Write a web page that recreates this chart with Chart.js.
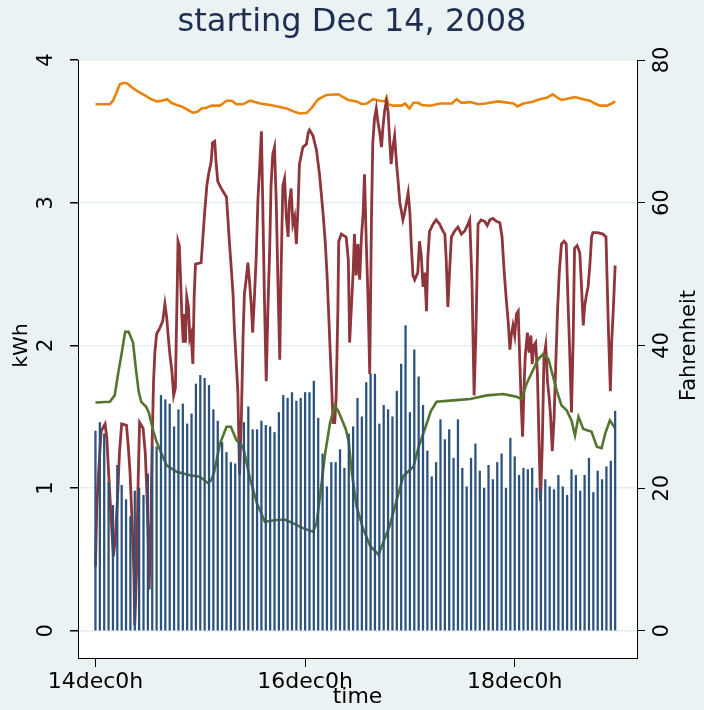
<!DOCTYPE html>
<html>
<head>
<meta charset="utf-8">
<title>starting Dec 14, 2008</title>
<script src="https://cdn.jsdelivr.net/npm/chart.js@4.4.1/dist/chart.umd.min.js"></script>
<style>
    html, body { margin: 0; padding: 0; background: #eaf2f3; }
    #wrap { width: 704px; height: 710px; position: relative; }
</style>
</head>
<body>
<div id="wrap"><canvas id="usage"></canvas></div>
<script>
// Hourly electricity use (kWh), one value per hour from 14dec 0h
const kwhHourly = [
    1.40, 1.46, 1.38, 1.04, 0.88, 1.16, 1.02, 0.92, 0.80, 0.98, 1.00, 0.95,
    1.10, 1.29, 1.29, 1.65, 1.62, 1.59, 1.43, 1.55, 1.59, 1.45, 1.52, 1.73,
    1.79, 1.77, 1.72, 1.55, 1.47, 1.32, 1.25, 1.18, 1.17, 1.33, 1.46, 1.57,
    1.41, 1.41, 1.47, 1.44, 1.43, 1.39, 1.53, 1.65, 1.63, 1.67, 1.61, 1.63,
    1.67, 1.67, 1.75, 1.49, 1.24, 1.01, 1.18, 1.18, 1.27, 1.14, 1.38, 1.43,
    1.63, 1.50, 1.74, 1.80, 1.80, 1.45, 1.58, 1.55, 1.50, 1.68, 1.87, 2.14,
    1.53, 1.97, 1.78, 1.58, 1.26, 1.08, 1.18, 1.48, 1.34, 1.41, 1.21, 1.48,
    1.14, 1.01, 1.21, 1.31, 1.12, 1.00, 1.16, 1.06, 1.18, 1.24, 1.00, 1.35,
    1.22, 1.09, 1.14, 1.13, 1.14, 1.00, 0.99, 1.06, 1.01, 0.99, 1.09, 1.01,
    0.95, 1.13, 1.09, 0.98, 1.09, 1.21, 0.97, 1.12, 1.06, 1.15, 1.19, 1.54
];

// Red trace (kWh axis), sampled finer than hourly
const redHours = [
    0, 0.3, 0.8, 1.3, 2.2, 2.6, 3.1, 3.6, 4.1, 4.5, 5.0, 5.5, 6.0, 7.1, 7.5, 7.9,
    8.4, 8.8, 9.0, 9.4, 9.7, 10.1, 10.9, 11.4, 11.8, 12.1, 12.3, 12.7, 13.0, 13.3,
    13.6, 14.0, 14.7, 15.4, 15.9, 16.3, 16.7, 17.1, 17.5, 17.9, 18.3, 18.5, 18.7,
    18.9, 19.2, 19.5, 19.8, 20.1, 20.4, 20.6, 20.9, 21.3, 21.6, 21.9, 22.3, 22.6,
    22.9, 24.2, 24.6, 25.0, 25.5, 25.9, 26.5, 26.8, 27.3, 27.6, 28.0, 28.8, 30.0,
    30.3, 30.7, 31.1, 31.5, 31.8, 32.2, 32.6, 33.0, 33.4, 33.8, 34.1, 34.5, 34.9,
    35.3, 35.7, 36.0, 36.4, 36.8, 37.2, 37.6, 38.0, 38.3, 38.7, 39.1, 39.5, 39.9,
    40.2, 40.6, 41.0, 41.4, 41.8, 42.2, 42.5, 42.9, 43.3, 43.7, 44.1, 44.4, 44.8,
    45.2, 45.6, 46.0, 46.4, 46.7, 47.5, 48.3, 48.7, 49.0, 49.8, 50.6, 51.3, 52.1,
    52.6, 53.0, 53.4, 53.8, 54.1, 54.4, 54.8, 55.1, 55.5, 55.7, 56.3, 57.4, 57.9,
    58.2, 58.6, 59.0, 59.3, 59.7, 60.1, 60.5, 60.9, 61.3, 61.6, 62.0, 62.4, 62.8,
    63.2, 63.5, 63.9, 64.3, 64.7, 65.1, 65.5, 65.8, 66.2, 66.6, 67.0, 67.4, 67.7,
    68.1, 68.5, 68.9, 69.3, 69.7, 70.0, 70.4, 70.8, 71.2, 71.6, 72.0, 72.3, 72.7,
    73.1, 73.8, 74.2, 74.6, 75.0, 75.4, 75.8, 76.1, 76.5, 77.3, 78.0, 78.8, 79.6,
    80.0, 80.3, 80.7, 81.1, 81.5, 82.2, 83.0, 83.8, 84.5, 85.3, 85.7, 86.2, 86.7,
    87.1, 87.6, 88.3, 89.1, 89.7, 90.3, 91.0, 91.8, 92.6, 93.1, 93.6, 94.1, 94.5,
    94.9, 95.2, 95.6, 96.0, 96.4, 96.8, 97.1, 97.5, 97.8, 98.1, 98.4, 98.9, 99.3,
    99.7, 100.0, 100.4, 100.8, 101.2, 101.6, 101.9, 102.3, 102.7, 103.1, 103.5,
    103.9, 104.2, 104.6, 105.0, 105.4, 105.8, 106.2, 106.7, 107.3, 107.8, 108.2,
    108.6, 109.0, 109.4, 109.7, 110.3, 110.9, 111.3, 111.7, 112.0, 112.4, 112.8,
    113.2, 113.6, 113.9, 115.0, 116.2, 116.9, 117.2, 117.5, 117.9, 118.2, 118.6, 119.0
];
const redKwh = [
    0.45, 0.87, 1.15, 1.40, 1.45, 1.35, 1.06, 0.78, 0.52, 0.63, 0.90, 1.25, 1.45, 1.44, 1.30, 1.12,
    0.75, 0.40, 0.04, 0.40, 0.95, 1.46, 1.42, 1.25, 0.95, 0.60, 0.29, 0.80, 1.35, 1.75,
    1.95, 2.08, 2.12, 2.17, 2.29, 2.20, 2.05, 1.92, 1.82, 1.65, 1.70, 2.05, 2.36,
    2.73, 2.70, 2.46, 2.19, 2.02, 2.22, 2.02, 2.34, 2.27, 2.05, 2.08, 1.87, 2.34,
    2.57, 2.58, 2.76, 2.93, 3.12, 3.20, 3.29, 3.42, 3.43, 3.29, 3.15, 3.10, 3.04,
    2.90, 2.71, 2.54, 2.36, 2.12, 1.90, 1.68, 1.09, 1.48, 2.07, 2.36, 2.46, 2.58,
    2.44, 2.27, 2.09, 2.34, 2.61, 3.02, 3.25, 3.50, 3.00, 2.31, 1.75, 2.27, 2.68,
    3.12, 3.34, 3.39, 3.00, 2.41, 1.90, 2.51, 3.12, 3.17, 2.90, 2.76, 3.00, 3.10,
    2.85, 2.90, 2.71, 2.98, 3.27, 3.39, 3.41, 3.49, 3.51, 3.47, 3.37, 3.20, 2.93,
    2.73, 2.51, 2.22, 1.92, 1.70, 1.46, 1.46, 1.63, 2.24, 2.73, 2.78, 2.76, 2.60,
    2.02, 2.27, 2.51, 2.78, 2.49, 2.71, 2.46, 2.76, 2.93, 3.20, 2.73, 2.34, 1.80,
    2.90, 3.42, 3.59, 3.66, 3.56, 3.49, 3.39, 3.52, 3.64, 3.71, 3.64, 3.42, 3.27,
    3.39, 3.47, 3.29, 3.15, 3.00, 2.95, 2.88, 2.93, 3.00, 3.07, 2.93, 2.71, 2.49,
    2.46, 2.51, 2.73, 2.63, 2.41, 2.51, 2.24, 2.61, 2.80, 2.85, 2.88, 2.85, 2.80,
    2.78, 2.61, 2.27, 2.53, 2.76, 2.80, 2.83, 2.78, 2.80, 2.85, 2.88, 2.46, 1.65,
    2.07, 2.85, 2.88, 2.87, 2.84, 2.88, 2.89, 2.87, 2.86, 2.76, 2.51, 2.31, 2.17,
    1.97, 2.07, 2.14, 2.07, 2.22, 2.24, 1.95, 1.58, 1.36, 1.68, 1.92, 2.09, 1.95,
    2.07, 1.87, 2.00, 2.02, 1.80, 1.29, 0.91, 1.29, 1.92, 2.00, 1.75,
    1.63, 1.51, 1.26, 1.48, 1.87, 2.24, 2.51, 2.71, 2.73, 2.71, 2.31,
    1.95, 1.53, 2.07, 2.68, 2.70, 2.65, 2.41, 2.14, 2.27, 2.35, 2.41,
    2.56, 2.76, 2.79, 2.79, 2.78, 2.76, 2.41, 2.07, 1.68, 2.02, 2.27, 2.56
];

// Green trace (Fahrenheit axis)
const greenHours = [
    0, 3.3, 4.4, 5.2, 6.0, 6.8, 7.6, 8.6, 9.3, 9.9, 10.5, 11.6, 12.2, 13.2, 14.0,
    14.8, 16.3, 18.6, 21.6, 23.9, 25.8, 26.5, 27.2, 28.5, 30.0, 31.0, 32.3, 33.8,
    35.4, 36.9, 38.8, 41.0, 43.3, 45.2, 47.5, 49.8, 50.6, 51.4, 52.6, 53.7, 54.8,
    55.6, 57.3, 58.0, 58.7, 59.8, 61.3, 62.9, 64.8, 65.9, 67.4, 69.0, 70.5, 72.8,
    74.0, 75.6, 76.8, 78.1, 81.9, 85.8, 89.6, 93.4, 94.9, 96.4, 97.6, 98.7, 100.3,
    101.4, 102.5, 103.7, 104.5, 105.6, 106.7, 107.9, 109.0, 109.8, 110.6, 111.7,
    113.6, 114.8, 115.9, 116.7, 117.8, 119.0
];
const greenTemp = [
    32.0, 32.1, 33.0, 36.1, 38.9, 41.9, 41.9, 40.4, 36.5, 33.5, 32.1, 31.4, 30.6, 28.1, 26.5,
    25.3, 23.2, 22.3, 21.8, 21.6, 20.7, 21.1, 22.3, 26.2, 28.6, 28.6, 26.7, 25.8,
    21.3, 18.0, 15.3, 15.5, 15.6, 15.1, 14.4, 13.9, 15.0, 18.8, 24.9, 29.1, 31.6,
    30.8, 28.3, 26.5, 22.1, 17.4, 14.3, 11.9, 10.7, 12.4, 14.8, 18.4, 21.7, 23.0,
    25.8, 28.6, 30.8, 32.1, 32.3, 32.5, 33.0, 33.2, 33.0, 32.8, 32.5, 34.6, 36.7,
    38.1, 38.8, 38.1, 36.3, 33.7, 31.6, 30.9, 29.5, 27.4, 30.0, 28.3,
    27.9, 25.8, 25.6, 27.6, 29.5, 28.4
];

// Orange trace (Fahrenheit axis)
const orangeHours = [
    0, 3.3, 4.0, 4.8, 5.6, 6.5, 7.3, 8.3, 9.4, 10.6, 11.7, 12.8, 14.0, 15.2, 16.4,
    17.4, 18.6, 19.7, 20.9, 22.4, 23.5, 24.3, 25.4, 26.6, 28.5, 30.0, 31.2, 32.3,
    33.8, 35.4, 37.7, 40.0, 42.2, 43.8, 45.3, 46.8, 48.4, 49.5, 51.0, 52.9, 55.6,
    56.7, 57.9, 59.8, 61.0, 62.1, 63.6, 65.1, 66.3, 66.7, 67.0, 68.2, 70.1, 70.9,
    71.9, 72.8, 73.9, 74.7, 76.6, 78.9, 81.6, 82.7, 83.8, 85.8, 87.7, 89.2, 92.2,
    95.7, 96.6, 98.0, 99.9, 101.8, 103.3, 104.7, 105.6, 106.7, 108.3, 109.8,
    111.7, 113.2, 114.4, 115.5, 117.1, 118.2, 119.0
];
const orangeTemp = [
    73.8, 73.8, 74.3, 75.4, 76.6, 76.8, 76.7, 76.2, 75.7, 75.3, 74.9, 74.5, 74.2, 74.3, 74.5,
    74.0, 73.7, 73.5, 73.1, 72.6, 72.8, 73.2, 73.3, 73.6, 73.6, 74.3, 74.3, 73.8,
    73.8, 74.3, 73.9, 73.7, 73.4, 73.2, 72.8, 72.5, 72.6, 73.3, 74.5, 75.1, 75.2,
    74.8, 74.4, 74.2, 73.8, 73.9, 74.5, 74.3, 74.2, 74.7, 73.8, 73.6, 73.6, 73.9,
    73.2, 74.0, 74.0, 73.7, 73.6, 73.9, 73.9, 74.5, 74.0, 74.1, 73.8, 73.9, 74.2,
    73.9, 73.5, 73.9, 74.1, 74.5, 74.7, 75.2, 74.8, 74.4, 74.6, 74.8,
    74.5, 74.3, 73.9, 73.6, 73.6, 73.9, 74.2
];

// Axis ticks and labels
const xTickValues = [0, 48, 96];
const xTickLabels = ['14dec0h', '16dec0h', '18dec0h'];
const kwhTicks = [0, 1, 2, 3, 4];
const tempTicks = [0, 20, 40, 60, 80];

const chartTitle = 'starting Dec 14, 2008';
const xTitle = 'time';
const leftTitle = 'kWh';
const rightTitle = 'Fahrenheit';

const FONT = '"DejaVu Sans", sans-serif';
const toPoints = (xs, ys) => xs.map((x, i) => ({ x: x, y: ys[i] }));

// White plot region over the bluish graph region
const plotBackground = {
    id: 'plotBackground',
    beforeDraw(chart) {
        const { ctx, chartArea, width, height } = chart;
        ctx.save();
        ctx.fillStyle = '#eaf2f3';
        ctx.fillRect(0, 0, width, height);
        ctx.fillStyle = '#ffffff';
        ctx.fillRect(chartArea.left, chartArea.top,
            chartArea.right - chartArea.left, chartArea.bottom - chartArea.top);
        ctx.restore();
    }
};

// Vertical axis titles, both reading bottom to top
const sideTitles = {
    id: 'sideTitles',
    afterDraw(chart) {
        const ctx = chart.ctx;
        const mid = chart.scales.y.getPixelForValue(2);
        ctx.save();
        ctx.fillStyle = '#000000';
        ctx.textAlign = 'center';
        ctx.textBaseline = 'middle';
        [[22, leftTitle, 20], [690, rightTitle, 21]].forEach(([x, text, size]) => {
            ctx.save();
            ctx.font = size + 'px ' + FONT;
            ctx.translate(x, mid);
            ctx.rotate(-Math.PI / 2);
            ctx.fillText(text, 0, 0);
            ctx.restore();
        });
        ctx.restore();
    }
};

const verticalTicks = (padding) => ({
    minRotation: 90,
    maxRotation: 90,
    crossAlign: 'center',
    padding: padding,
    color: '#000000',
    font: { family: FONT, size: 21 }
});

new Chart(document.getElementById('usage'), {
    data: {
        datasets: [
            {
                type: 'bar',
                data: toPoints(kwhHourly.map((v, i) => i), kwhHourly),
                backgroundColor: '#2b527c',
                barThickness: 1.6,
                yAxisID: 'y',
                order: 0
            },
            {
                type: 'line',
                data: toPoints(greenHours, greenTemp),
                borderColor: '#55752f',
                borderWidth: 2.6,
                pointRadius: 0,
                yAxisID: 'y1',
                order: 1
            },
            {
                type: 'line',
                data: toPoints(redHours, redKwh),
                borderColor: '#8f353c',
                borderWidth: 2.8,
                pointRadius: 0,
                yAxisID: 'y',
                order: 2
            },
            {
                type: 'line',
                data: toPoints(orangeHours, orangeTemp),
                borderColor: '#e9830a',
                borderWidth: 2.6,
                pointRadius: 0,
                yAxisID: 'y1',
                order: 3
            }
        ]
    },
    options: {
        responsive: true,
        maintainAspectRatio: false,
        animation: false,
        layout: { padding: 0, autoPadding: false },
        plugins: {
            legend: { display: false },
            tooltip: { enabled: false },
            title: {
                display: true,
                text: chartTitle,
                color: '#1f2d50',
                font: { family: FONT, size: 32, weight: 'normal' },
                padding: { top: 3, bottom: 18.6 }
            }
        },
        scales: {
            x: {
                type: 'linear',
                offset: false,
                min: -4,
                max: 124,
                afterBuildTicks: (s) => { s.ticks = xTickValues.map(v => ({ value: v })); },
                afterFit: (s) => { s.height = 52; },
                ticks: {
                    autoSkip: false,
                    maxRotation: 0,
                    padding: 2,
                    color: '#000000',
                    font: { family: FONT, size: 22 },
                    callback: (v) => xTickLabels[xTickValues.indexOf(v)]
                },
                grid: { offset: false, drawOnChartArea: false, tickLength: 9, tickColor: '#000000' },
                border: { display: true, color: '#000000', width: 1 },
                title: {
                    display: true,
                    text: xTitle,
                    color: '#000000',
                    padding: 0,
                    font: { family: FONT, size: 22 }
                }
            },
            y: {
                position: 'left',
                min: -0.19,
                max: 4,
                afterBuildTicks: (s) => { s.ticks = kwhTicks.map(v => ({ value: v })); },
                afterFit: (s) => { s.width = 78; },
                ticks: verticalTicks(17),
                grid: { color: '#e3edf0', lineWidth: 1.5, tickLength: 8, tickColor: '#000000' },
                border: { display: true, color: '#000000', width: 1 }
            },
            y1: {
                position: 'right',
                min: -3.8,
                max: 80,
                afterBuildTicks: (s) => { s.ticks = tempTicks.map(v => ({ value: v })); },
                afterFit: (s) => { s.width = 67; },
                ticks: verticalTicks(4),
                grid: { drawOnChartArea: false, tickLength: 8, tickColor: '#000000' },
                border: { display: true, color: '#000000', width: 1 }
            }
        }
    },
    plugins: [plotBackground, sideTitles]
});
</script>
</body>
</html>
